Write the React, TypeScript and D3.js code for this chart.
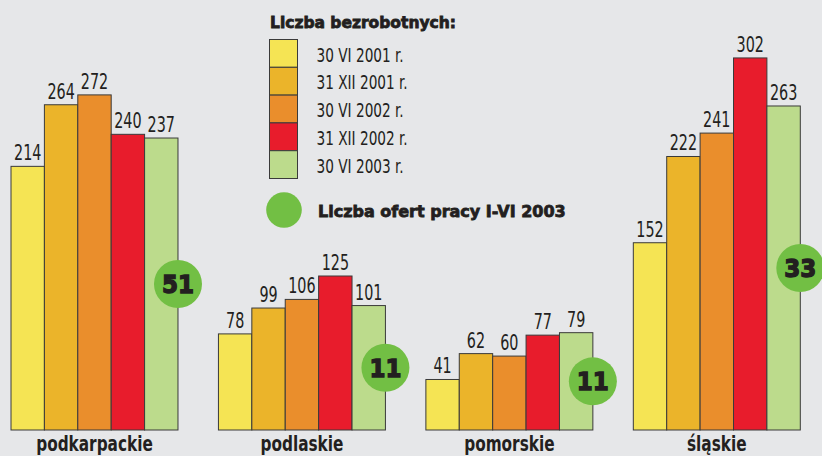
import React from "react";
import * as d3 from "d3";

const categories = ["podkarpackie", "podlaskie", "pomorskie", "śląskie"];
const seriesNames = ["30 VI 2001 r.", "31 XII 2001 r.", "30 VI 2002 r.", "31 XII 2002 r.", "30 VI 2003 r."];
const seriesColors = ["#f5e454", "#ebb42a", "#ea8e2c", "#e81c2c", "#bcdb8c"];
const values: number[][] = [
  [214, 264, 272, 240, 237],
  [78, 99, 106, 125, 101],
  [41, 62, 60, 77, 79],
  [152, 222, 241, 302, 263],
];
const offers = [51, 11, 11, 33];
const legendTitle = "Liczba bezrobotnych:";
const offersLabel = "Liczba ofert pracy I-VI 2003";

const W = 822;
const H = 456;
const BASE = 430;
const TEXT = "#231f20";
const STROKE = "#3a3a3a";
const NARROW = "'Liberation Sans Narrow', 'DejaVu Sans Condensed', sans-serif";
const HEAVY = "'DejaVu Sans', sans-serif";

export default function App() {
  const x0 = d3.scaleBand<string>().domain(categories).range([11, 800.3]).paddingInner(0.195).paddingOuter(0);
  const x1 = d3.scaleBand<string>().domain(seriesNames).range([0, x0.bandwidth()]).padding(0);
  const y = d3.scaleLinear().domain([0, 302]).range([BASE, BASE - 302 * 1.232]);

  const legX = 269.5;
  const legY = 39.5;
  const rowH = 27.8;

  return (
    <svg width={W} height={H} style={{ position: "absolute", left: 0, top: 0, background: "#e6e7e9" }}>
      <rect x={0} y={0} width={W} height={H} fill="#e6e7e9" />
      {/* Legend */}
      <text x={270} y={27.5} fontFamily={HEAVY} fontWeight="bold" fontSize={15.5} fill={TEXT} stroke={TEXT} strokeWidth={0.8}>
        {legendTitle}
      </text>
      {seriesNames.map((s, i) => (
        <g key={s}>
          <rect x={legX} y={legY + i * rowH} width={28} height={rowH} fill={seriesColors[i]} stroke={STROKE} strokeWidth={1} />
          <text
            transform={`translate(316.5, ${legY + i * rowH + 22}) scale(0.76,1)`}
            fontFamily={NARROW}
            fontSize={20}
            fill={TEXT}
          >
            {s}
          </text>
        </g>
      ))}
      <circle cx={284} cy={210} r={17.8} fill="#72bf44" />
      <text x={318} y={216.5} fontFamily={HEAVY} fontWeight="bold" fontSize={16} fill={TEXT} stroke={TEXT} strokeWidth={0.8}>
        {offersLabel}
      </text>

      {/* Bars */}
      {categories.map((c, gi) => {
        const gx = x0(c)!;
        const last = seriesNames[seriesNames.length - 1];
        const lastV = values[gi][seriesNames.length - 1];
        const bx = gx + x1(last)! + x1.bandwidth();
        const by = (y(lastV) + BASE) / 2;
        return (
          <g key={c}>
            {seriesNames.map((s, si) => {
              const v = values[gi][si];
              const bxs = gx + x1(s)!;
              return (
                <g key={s}>
                  <rect
                    x={bxs}
                    y={y(v)}
                    width={x1.bandwidth()}
                    height={BASE - y(v)}
                    fill={seriesColors[si]}
                    stroke={STROKE}
                    strokeWidth={1}
                  />
                  <text
                    transform={`translate(${bxs + x1.bandwidth() / 2}, ${y(v) - 6}) scale(0.76,1)`}
                    textAnchor="middle"
                    fontFamily={NARROW}
                    fontSize={21}
                    fill={TEXT}
                  >
                    {v}
                  </text>
                </g>
              );
            })}
            <circle cx={bx} cy={by} r={24} fill="#72bf44" />
            <text
              transform={`translate(${bx}, ${by + 9}) scale(0.92,1)`}
              textAnchor="middle"
              fontFamily={HEAVY}
              fontWeight="bold"
              fontSize={25}
              fill={TEXT}
              stroke={TEXT}
              strokeWidth={1.4}
            >
              {offers[gi]}
            </text>
            <text
              transform={`translate(${gx + x0.bandwidth() / 2}, 450.5) scale(0.83,1)`}
              textAnchor="middle"
              fontFamily={NARROW}
              fontWeight="bold"
              fontSize={20.5}
              fill={TEXT}
            >
              {c}
            </text>
          </g>
        );
      })}
    </svg>
  );
}
